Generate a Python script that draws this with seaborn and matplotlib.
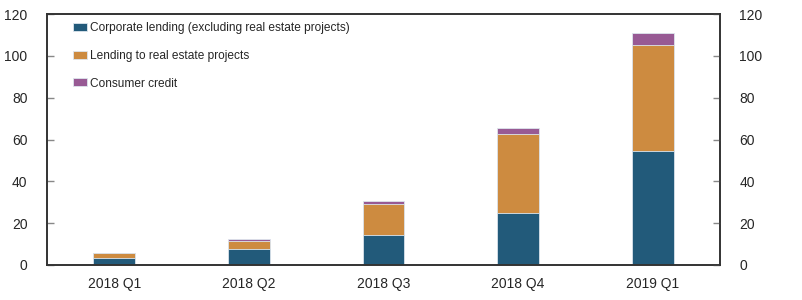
import matplotlib
matplotlib.use("Agg")
import matplotlib.pyplot as plt
import seaborn as sns
import numpy as np
import pandas as pd

quarters = ["2018 Q1", "2018 Q2", "2018 Q3", "2018 Q4", "2019 Q1"]
corporate = [3.5, 7.6, 14.3, 25.0, 54.6]
real_estate = [2.1, 4.0, 14.7, 37.8, 50.7]
consumer = [0.3, 0.8, 1.7, 2.5, 5.7]
labels = ["Corporate lending (excluding real estate projects)",
          "Lending to real estate projects",
          "Consumer credit"]
colors = ["#225A7A", "#CD8B40", "#985A94"]
yticks = [0, 20, 40, 60, 80, 100, 120]

sns.set_theme(style="white")
plt.rcParams['font.family'] = ['Liberation Sans', 'DejaVu Sans']

c1 = np.array(corporate)
c2 = c1 + np.array(real_estate)
c3 = c2 + np.array(consumer)
df = pd.DataFrame({"q": quarters, "c1": c1, "c2": c2, "c3": c3})

fig, ax = plt.subplots(figsize=(8.03, 3.0), dpi=100)
fig.subplots_adjust(left=0.0585, right=0.8966, top=0.953, bottom=0.117)

for col, colr, lab in [("c3", colors[2], labels[2]), ("c2", colors[1], labels[1]), ("c1", colors[0], labels[0])]:
    sns.barplot(data=df, x="q", y=col, color=colr, width=0.31, ax=ax, label=lab,
                edgecolor="#dde6ee", linewidth=0.6, saturation=1)

ax.set_xlim(-0.5, 4.5)
ax.set_ylim(0, 120)
ax.set_yticks(yticks)
ax.set_xlabel("")
ax.set_ylabel("")
ax.tick_params(axis="y", direction="in", length=5, width=1, color="#888888", labelsize=10, pad=14)
ax.tick_params(axis="x", length=0, labelsize=10, pad=8.5)
for s in ax.spines.values():
    s.set_color("#333333")
    s.set_linewidth(1.2)

ax2 = ax.twinx()
ax2.set_ylim(0, 120)
ax2.set_yticks(yticks)
ax2.tick_params(axis="y", direction="in", length=5, width=1, color="#888888", labelsize=10, pad=14)
for s in ax2.spines.values():
    s.set_color("#333333")
    s.set_linewidth(1.2)
ax2.grid(False)
ax.grid(False)

handles, labs = ax.get_legend_handles_labels()
order = [labs.index(l) for l in labels]
leg = ax.legend([handles[i] for i in order], [labs[i] for i in order],
                loc="upper left", bbox_to_anchor=(0.026, 1.0), frameon=False,
                fontsize=8.6, handlelength=1.2, handleheight=0.65, handletextpad=0.25,
                labelspacing=1.3, borderaxespad=0.3)

fig.savefig("out.png", dpi=100)
